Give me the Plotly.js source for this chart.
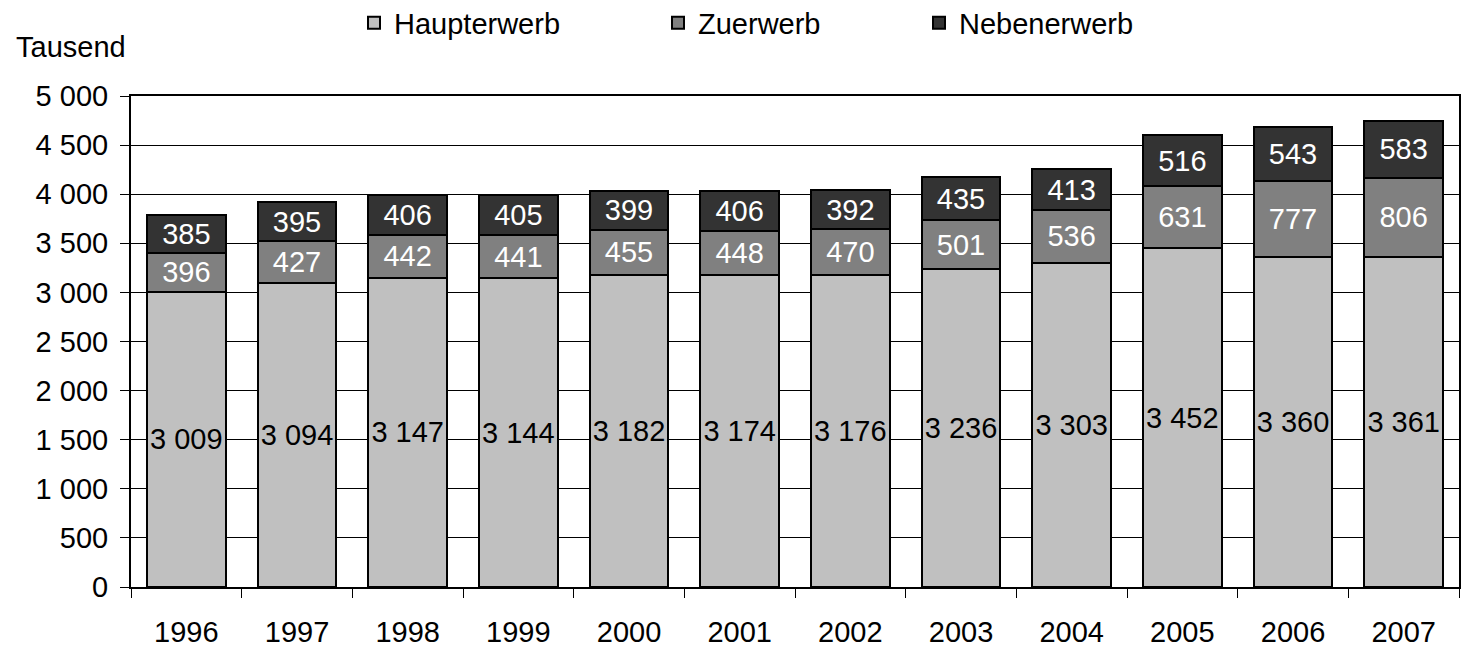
<!DOCTYPE html>
<html>
<head>
<meta charset="utf-8">
<script src="https://cdn.plot.ly/plotly-3.0.1.min.js"></script>
<style>html,body{margin:0;padding:0;background:#fff;}#chart{width:1461px;height:648px;}</style>
</head>
<body>
<div id="chart"></div>
<script>
const years = ['1996','1997','1998','1999','2000','2001','2002','2003','2004','2005','2006','2007'];
const haupterwerb = [3009,3094,3147,3144,3182,3174,3176,3236,3303,3452,3360,3361];
const zuerwerb = [396,427,442,441,455,448,470,501,536,631,777,806];
const nebenerwerb = [385,395,406,405,399,406,392,435,413,516,543,583];
const seriesNames = ['Haupterwerb','Zuerwerb','Nebenerwerb'];
const yTickVals = [0,500,1000,1500,2000,2500,3000,3500,4000,4500,5000];

function fmt(v){ return String(v).replace(/\B(?=(\d{3})+(?!\d))/g,' '); }

const FONT = 'Liberation Sans, Arial, sans-serif';
const FS = 29;
const L = 131, R = 1459, W = 1461, T = 96, B = 587, H = 648;
function px2paperX(px){ return (px - L) / (R - L); }
function px2paperY(py){ return (B - py) / (B - T); }

function mk(name, vals, color, textColor, legendId){
  return {
    type:'bar', name:name, x:years, y:vals, legend:legendId,
    text: vals.map(fmt), textposition:'inside', insidetextanchor:'middle',
    constraintext:'none', cliponaxis:false,
    textfont:{family:FONT, size:FS, color:textColor},
    marker:{color:color, line:{color:'#000', width:2}},
    hoverinfo:'skip'
  };
}

const data = [
  mk(seriesNames[0], haupterwerb, '#C0C0C0', '#000', 'legend'),
  mk(seriesNames[1], zuerwerb, '#808080', '#fff', 'legend2'),
  mk(seriesNames[2], nebenerwerb, '#333333', '#fff', 'legend3')
];

function leg(pxLeft){
  return {orientation:'h', x:px2paperX(pxLeft), xanchor:'left', y:px2paperY(23), yanchor:'middle',
          font:{family:FONT, size:FS, color:'#000'}, bgcolor:'rgba(0,0,0,0)', borderwidth:0};
}

const layout = {
  width:W, height:H,
  margin:{l:L, r:W - R, t:T, b:H - B, pad:0, autoexpand:false},
  barmode:'stack', bargap:0.287,
  paper_bgcolor:'#fff', plot_bgcolor:'#fff',
  font:{family:FONT, size:FS, color:'#000'},
  showlegend:true,
  legend:leg(354), legend2:leg(658), legend3:leg(919),
  xaxis:{type:'category', showline:true, linecolor:'#000', linewidth:2, mirror:true,
         ticks:'outside', tickson:'boundaries', ticklen:9, tickcolor:'#000', tickwidth:1,
         showgrid:false, ticklabelstandoff:18, tickfont:{family:FONT, size:FS}, automargin:false},
  yaxis:{range:[0,5000], tickvals:yTickVals, ticktext:yTickVals.map(fmt),
         showline:true, linecolor:'#000', linewidth:2, mirror:true,
         ticks:'outside', ticklen:9, tickcolor:'#000', tickwidth:1,
         showgrid:true, gridcolor:'#000', gridwidth:1, zeroline:false,
         ticklabelstandoff:6, tickfont:{family:FONT, size:FS}, automargin:false},
  annotations:[{text:'Tausend', xref:'paper', yref:'paper', x:0, xshift:-117, xanchor:'left',
                y:px2paperY(47), yanchor:'middle', showarrow:false,
                font:{family:FONT, size:FS, color:'#000'}}]
};

Plotly.newPlot('chart', data, layout, {staticPlot:true, displayModeBar:false});
</script>
</body>
</html>
